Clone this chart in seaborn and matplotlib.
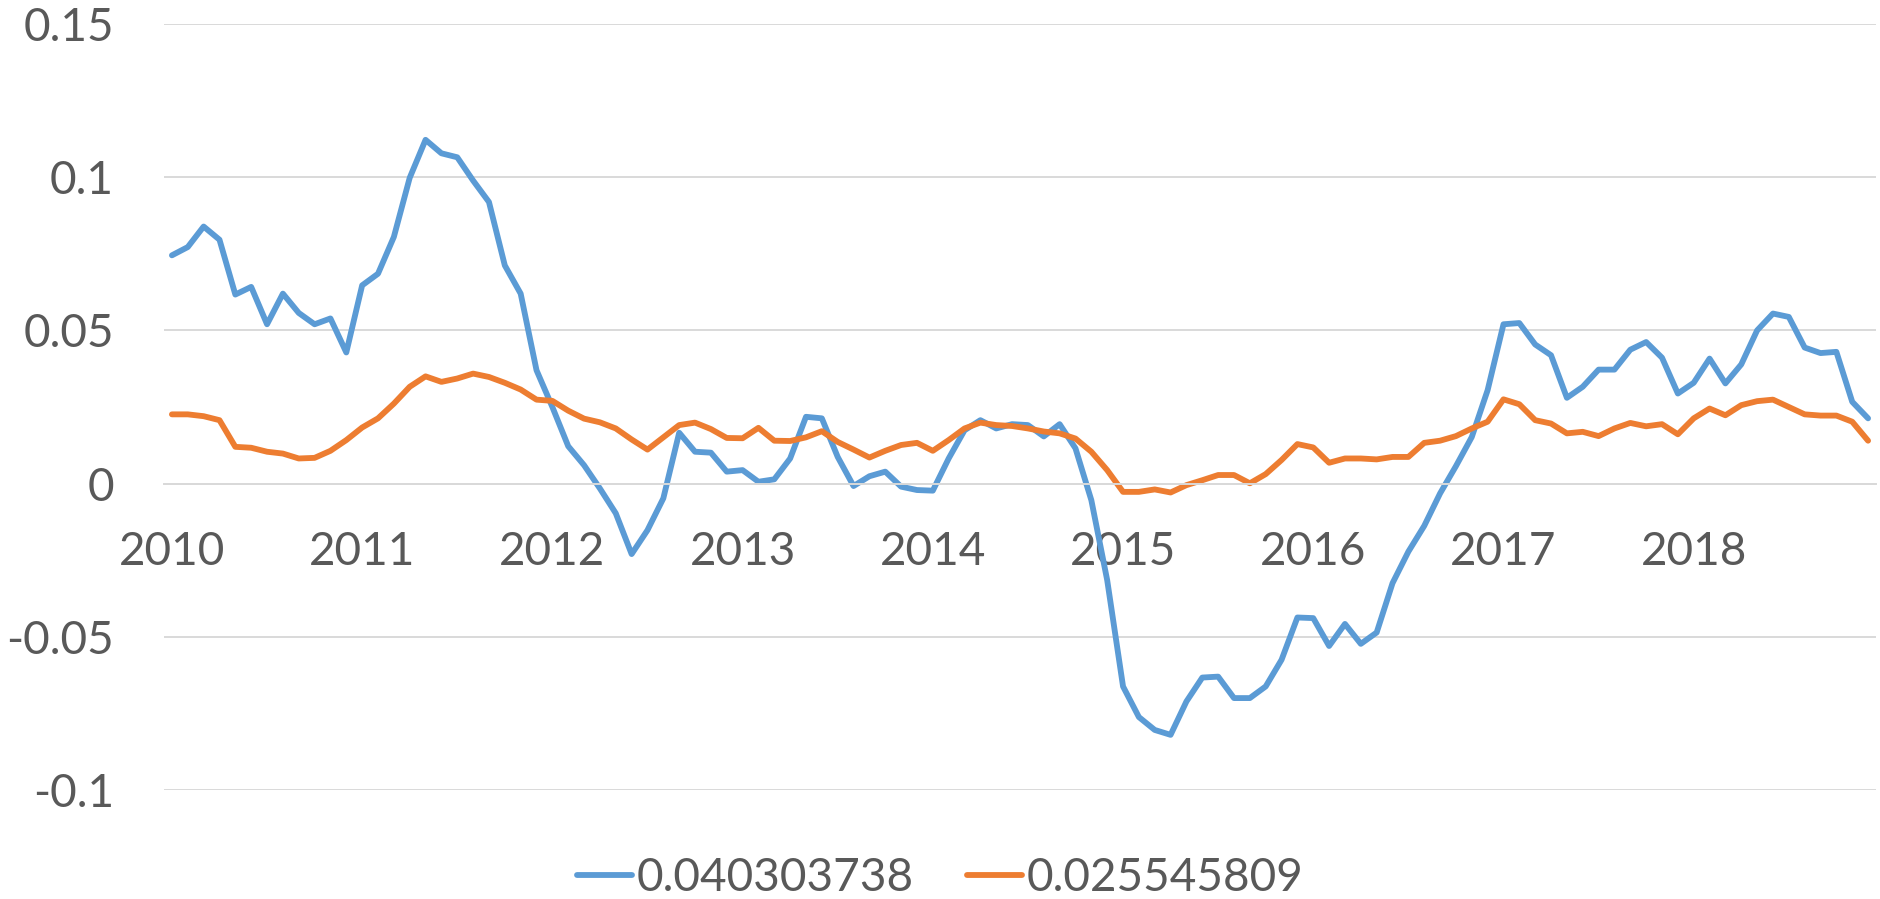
import matplotlib
matplotlib.use("Agg")
import matplotlib.pyplot as plt
import numpy as np
import pandas as pd
import seaborn as sns

# monthly values, Jan 2010 .. Dec 2018
SERIES_BLUE = [
    0.0745, 0.0772, 0.0839, 0.0796, 0.0617, 0.0642, 0.0520, 0.0620, 0.0557, 0.0520, 0.0539, 0.0428,
    0.0647, 0.0685, 0.0805, 0.0998, 0.1122, 0.1078, 0.1065, 0.0989, 0.0919, 0.0712, 0.0620, 0.0370,
    0.0250, 0.0122, 0.0060, -0.0016, -0.0097, -0.0230, -0.0152, -0.0048, 0.0166, 0.0104, 0.0101, 0.0039,
    0.0044, 0.0006, 0.0014, 0.0082, 0.0218, 0.0213, 0.0087, -0.0008, 0.0024, 0.0039, -0.0010, -0.0021,
    -0.0023, 0.0082, 0.0174, 0.0207, 0.0180, 0.0194, 0.0191, 0.0154, 0.0194, 0.0115, -0.0054, -0.0315,
    -0.0662, -0.0762, -0.0804, -0.0820, -0.0711, -0.0633, -0.0630, -0.0700, -0.0700, -0.0662, -0.0575, -0.0437,
    -0.0439, -0.0530, -0.0458, -0.0523, -0.0486, -0.0325, -0.0222, -0.0138, -0.0032, 0.0057, 0.0152, 0.0305,
    0.0520, 0.0524, 0.0454, 0.0419, 0.0280, 0.0316, 0.0372, 0.0372, 0.0437, 0.0462, 0.0411, 0.0294,
    0.0329, 0.0408, 0.0327, 0.0389, 0.0500, 0.0555, 0.0544, 0.0444, 0.0426, 0.0430, 0.0267, 0.0213,
]
SERIES_ORANGE = [
    0.0226, 0.0226, 0.0220, 0.0207, 0.0120, 0.0117, 0.0104, 0.0098, 0.0082, 0.0084, 0.0107, 0.0142,
    0.0183, 0.0213, 0.0261, 0.0316, 0.0350, 0.0332, 0.0343, 0.0359, 0.0348, 0.0329, 0.0307, 0.0274,
    0.0270, 0.0238, 0.0212, 0.0200, 0.0180, 0.0144, 0.0111, 0.0151, 0.0191, 0.0199, 0.0178, 0.0149,
    0.0148, 0.0182, 0.0140, 0.0139, 0.0151, 0.0171, 0.0136, 0.0111, 0.0085, 0.0107, 0.0126, 0.0133,
    0.0107, 0.0142, 0.0180, 0.0199, 0.0191, 0.0188, 0.0180, 0.0170, 0.0164, 0.0147, 0.0104, 0.0044,
    -0.0027, -0.0027, -0.0019, -0.0029, -0.0005, 0.0011, 0.0028, 0.0028, 0.0001, 0.0031, 0.0077, 0.0129,
    0.0118, 0.0068, 0.0082, 0.0082, 0.0079, 0.0087, 0.0087, 0.0133, 0.0140, 0.0155, 0.0180, 0.0202,
    0.0275, 0.0259, 0.0207, 0.0196, 0.0164, 0.0169, 0.0155, 0.0180, 0.0198, 0.0187, 0.0194, 0.0161,
    0.0213, 0.0245, 0.0223, 0.0256, 0.0269, 0.0274, 0.0250, 0.0226, 0.0222, 0.0222, 0.0202, 0.0140,
]
SERIES_NAMES = ["0.040303738", "0.025545809"]
YEARS = list(range(2010, 2019))
Y_TICKS = [-0.1, -0.05, 0, 0.05, 0.1, 0.15]
Y_TICK_LABELS = ["-0.1", "-0.05", "0", "0.05", "0.1", "0.15"]

BLUE = "#5B9BD5"
ORANGE = "#ED7D31"
GREY_TEXT = "#595959"
GREY_LINE = "#D9D9D9"


def main() -> None:
    sns.set_theme(style="white")
    plt.rcParams["font.family"] = ["Lato", "DejaVu Sans"]

    n = len(SERIES_BLUE)
    x = np.arange(n) + 0.5  # month centres
    df = pd.DataFrame({
        "month": np.concatenate([x, x]),
        "value": SERIES_BLUE + SERIES_ORANGE,
        "series": [SERIES_NAMES[0]] * n + [SERIES_NAMES[1]] * n,
    })

    fig = plt.figure(figsize=(18.8, 8.99), dpi=100)
    ax = fig.add_axes([164 / 1880, 1 - 790 / 899, (1876 - 164) / 1880, 766 / 899])

    sns.lineplot(data=df, x="month", y="value", hue="series",
                 palette=[BLUE, ORANGE], linewidth=4.2, ax=ax, legend=True)

    ax.set_xlim(0, n)
    ax.set_ylim(-0.1, 0.15)
    ax.set_xlabel("")
    ax.set_ylabel("")

    ax.set_yticks(Y_TICKS)
    ax.set_yticklabels(Y_TICK_LABELS)
    ax.yaxis.grid(True, color=GREY_LINE, linewidth=1.4)
    ax.tick_params(axis="y", length=0, pad=36, labelsize=33, labelcolor=GREY_TEXT)

    # year boundaries as ticks, year labels centred on January
    ax.set_xticks([12 * k for k in range(len(YEARS) + 1)])
    ax.set_xticklabels([])
    ax.set_xticks([12 * k + 0.5 for k in range(len(YEARS))], minor=True)
    ax.set_xticklabels([str(y) for y in YEARS], minor=True)
    ax.tick_params(axis="x", which="major", length=12, width=1.1, color=GREY_LINE, direction="out")
    ax.tick_params(axis="x", which="minor", length=0, pad=34, labelsize=33, labelcolor=GREY_TEXT)

    for side in ["left", "right", "top"]:
        ax.spines[side].set_visible(False)
    ax.spines["bottom"].set_position(("data", 0))
    ax.spines["bottom"].set_color(GREY_LINE)
    ax.spines["bottom"].set_linewidth(1.4)

    ax.get_legend().remove()
    handles, labels = ax.get_legend_handles_labels()
    fig.legend(handles, labels, loc="center", bbox_to_anchor=(0.5, 1 - 878 / 899),
               ncol=2, frameon=False, fontsize=33, labelcolor=GREY_TEXT,
               handlelength=1.2, handletextpad=0.1, columnspacing=1.15,
               borderpad=0, borderaxespad=0)

    fig.savefig("out.png", dpi=100)


if __name__ == "__main__":
    main()
